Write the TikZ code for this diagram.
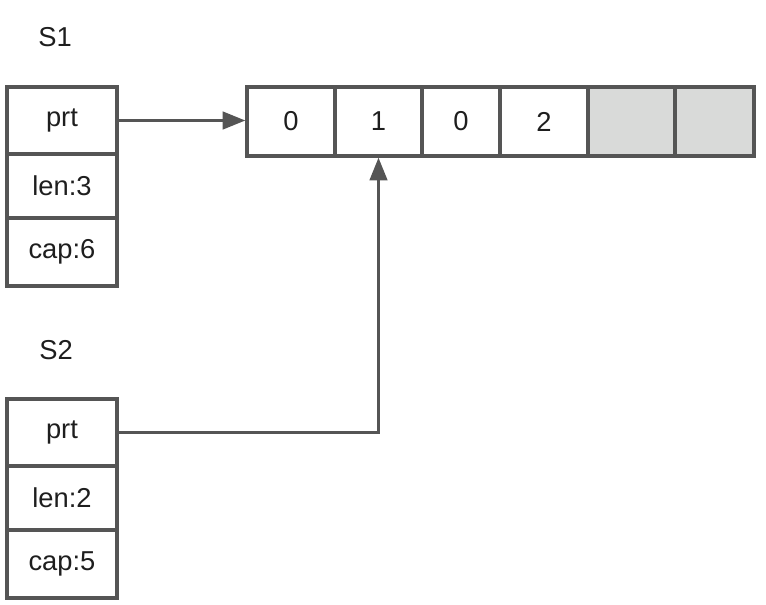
\documentclass[tikz,border=0pt]{standalone}
\usepackage{fontspec}
\setmainfont{Liberation Sans}
\usepackage{tikz}
\usetikzlibrary{arrows.meta,positioning,calc}
\definecolor{frame}{RGB}{85,85,85}
\definecolor{spare}{RGB}{217,218,217}
\definecolor{ink}{RGB}{30,30,30}

\begin{document}
\begin{tikzpicture}[x=0.75pt, y=-0.75pt,
  field/.style={draw=frame, line width=2.4pt, inner sep=0pt,
    minimum width=82.5pt, text=ink, font=\fontsize{20.5}{24}\selectfont},
  cell/.style={draw=frame, line width=2.4pt, inner sep=0pt,
    minimum height=51.75pt, text=ink, font=\fontsize{20.5}{24}\selectfont},
  free/.style={cell, fill=spare},
  title/.style={text=ink, font=\fontsize{20.5}{24}\selectfont},
  ref/.style={-{Triangle[length=17pt, width=13pt]}, draw=frame, line width=2.4pt}
]
\useasboundingbox (0,0) rectangle (766,604);

% slice headers
\node[title] (s1) at (55,37) {S1};
\node[field, minimum height=50.25pt] (s1prt) at (62,120.5) {prt};
\node[field, minimum height=48pt] (s1len) at (62,186) {len:3};
\node[field, minimum height=51pt] (s1cap) at (62,252) {cap:6};

\node[title] (s2) at (56,350) {S2};
\node[field, minimum height=50.25pt] (s2prt) at (62,432.5) {prt};
\node[field, minimum height=48pt] (s2len) at (62,498) {len:2};
\node[field, minimum height=51pt] (s2cap) at (62,564) {cap:5};

% backing array
\node[cell, minimum width=66pt] (c1) at (291,121.5) {0};
\node[cell, minimum width=65.25pt] (c2) at (378.5,121.5) {1};
\node[cell, minimum width=58.5pt] (c3) at (461,121.5) {0};
\node[cell, minimum width=66pt] (c4) at (544,121.5) {2};
\node[free, minimum width=65.25pt] (c5) at (631.5,121.5) {};
\node[free, minimum width=59.25pt] (c6) at (714.5,121.5) {};

\draw[ref] (s1prt.east) -- (s1prt.east -| c1.west);
\draw[ref] (s2prt.east) -| (c2.south);

\end{tikzpicture}
\end{document}
